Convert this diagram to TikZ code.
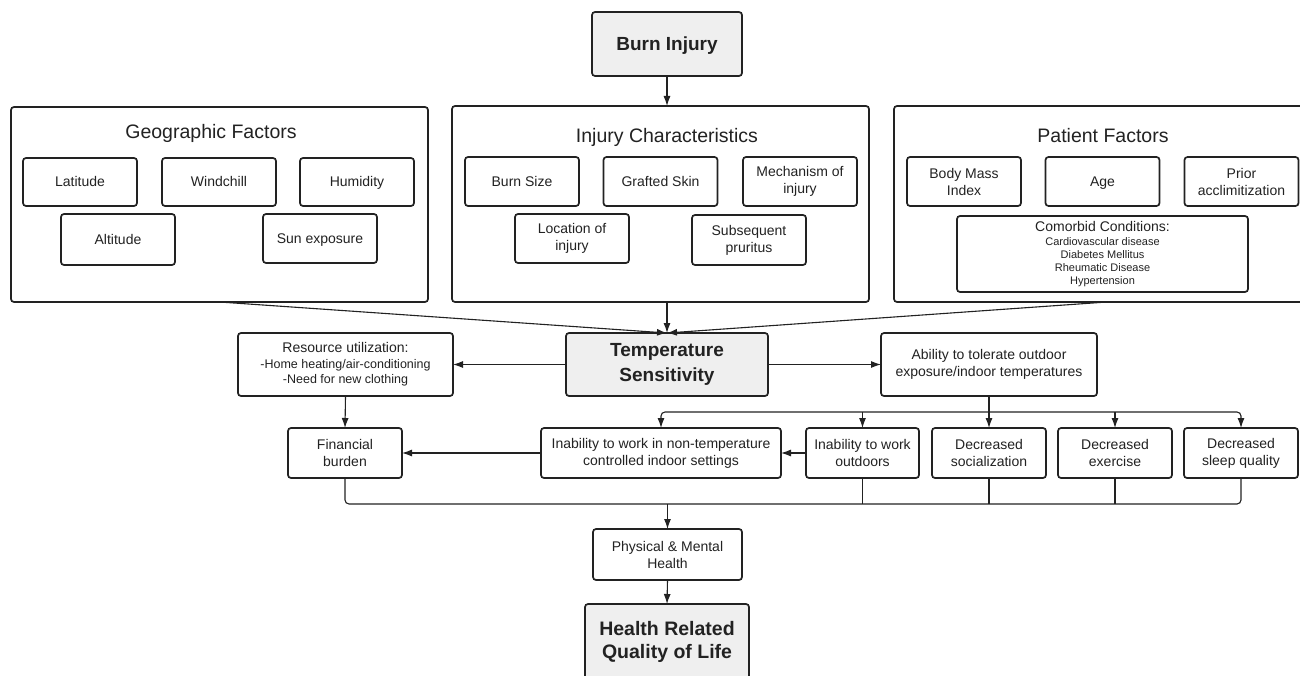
\documentclass[tikz,border=0pt]{standalone}
\usepackage{fontspec}
\setmainfont{Liberation Sans}
\usetikzlibrary{arrows.meta,calc}
\definecolor{ink}{HTML}{222222}
\definecolor{boxgray}{HTML}{EFEFEF}
\tikzset{
  box/.style={draw=ink, text=ink, rounded corners=3pt, line width=1.7pt, align=center,
    inner sep=0pt, outer sep=0pt, font=\fontsize{14}{17}\selectfont},
  oneline/.style={box, text height=10pt, text depth=0pt},
  keybox/.style={box, fill=boxgray, font=\fontsize{19}{25}\bfseries\selectfont},
  grp/.style={box, line width=1.7pt},
  ttl/.style={text=ink, anchor=base, inner sep=0pt, font=\fontsize{19.5}{22}\selectfont},
  ln/.style={draw=ink, line width=1.1pt},
  arr/.style={ln, -{Latex[length=10pt,width=7pt]}},
}
\begin{document}
\begin{tikzpicture}[x=1pt,y=-1pt]
\useasboundingbox (0,0) rectangle (1300,676);
\fill[white] (0,0) rectangle (1300,676);

% top
\node[keybox, minimum width=150, minimum height=64, text height=13.5pt, text depth=0pt] (burn) at (667,44) {Burn Injury};

% groups
\node[grp, minimum width=417, minimum height=195] (geo) at (219.5,204.5) {};
\node[grp, minimum width=417, minimum height=196] (inj) at (660.5,204) {};
\node[grp, minimum width=426, minimum height=196] (pat) at (1107,204) {};
\node[ttl] (geot) at (211,139) {Geographic Factors};
\node[ttl] (injt) at (667,143) {Injury Characteristics};
\node[ttl] (patt) at (1103,143) {Patient Factors};

% geographic
\node[oneline, minimum width=114, minimum height=48] (lat) at (80,182) {Latitude};
\node[oneline, minimum width=114, minimum height=48] (wind) at (219,182) {Windchill};
\node[oneline, minimum width=114, minimum height=48] (hum) at (357,182) {Humidity};
\node[oneline, minimum width=114, minimum height=51] (alt) at (118,239.5) {Altitude};
\node[oneline, minimum width=114, minimum height=49] (sun) at (320,238.5) {Sun exposure};

% injury
\node[oneline, minimum width=114, minimum height=49] (bsize) at (522,181.5) {Burn Size};
\node[oneline, minimum width=114, minimum height=49] (graft) at (660.5,181.5) {Grafted Skin};
\node[box, minimum width=114, minimum height=49] (mech) at (800,181.5) {Mechanism of\\injury};
\node[box, minimum width=114, minimum height=49] (loc) at (572,238.5) {Location of\\injury};
\node[box, minimum width=114, minimum height=50] (prur) at (749,240) {Subsequent\\pruritus};

% patient
\node[box, minimum width=114, minimum height=49] (bmi) at (964,181.5) {Body Mass\\Index};
\node[oneline, minimum width=114, minimum height=49] (age) at (1102.5,181.5) {Age};
\node[box, minimum width=114, minimum height=49] (prior) at (1241.5,181.5) {Prior\\acclimitization};
\node[box, minimum width=291, minimum height=76, font=\fontsize{11}{13}\selectfont] (comor) at (1102.5,254)
  {{\fontsize{14}{15}\selectfont Comorbid Conditions:}\\[1pt]Cardiovascular disease\\Diabetes Mellitus\\Rheumatic Disease\\Hypertension};

% middle
\node[keybox, minimum width=202, minimum height=63] (ts) at (667,364.5) {Temperature\\Sensitivity};
\node[box, minimum width=215, minimum height=63, font=\fontsize{12.5}{15.7}\selectfont] (res) at (345.5,364.5)
  {{\fontsize{14}{15}\selectfont Resource utilization:}\\-Home heating/air-conditioning\\-Need for new clothing};
\node[box, minimum width=216, minimum height=63] (abil) at (989,364.5) {Ability to tolerate outdoor\\exposure/indoor temperatures};

% row of effects
\node[box, minimum width=114, minimum height=50] (fin) at (345,453) {Financial\\burden};
\node[box, minimum width=240, minimum height=50] (nont) at (661,453) {Inability to work in non-temperature\\controlled indoor settings};
\node[box, minimum width=113, minimum height=50] (outd) at (862.5,453) {Inability to work\\outdoors};
\node[box, minimum width=114, minimum height=50] (soc) at (989,453) {Decreased\\socialization};
\node[box, minimum width=114, minimum height=50] (exer) at (1115,453) {Decreased\\exercise};
\node[box, minimum width=114, minimum height=50] (sleep) at (1241,453) {Decreased\\sleep quality};

% bottom
\node[box, minimum width=149, minimum height=51] (pmh) at (667.5,554.5) {Physical \& Mental\\Health};
\node[keybox, minimum width=164, minimum height=76, font=\fontsize{19.5}{23}\bfseries\selectfont] (hrq) at (667,642) {Health Related\\Quality of Life};

% connectors
\coordinate (bus) at (0,412);
\coordinate (col) at (0,504);
\draw[arr] (burn.south) -- (burn.south |- inj.north);
\draw[arr] (geo.south) -- (ts.north);
\draw[arr] (ts.north |- inj.south) -- (ts.north);
\draw[arr] (pat.south) -- (ts.north);
\draw[arr] (ts.west) -- (res.east);
\draw[arr] (ts.east) -- (abil.west);
\draw[arr] (res.south) -- (fin.north);

\draw[ln] (abil.south) -- (abil.south |- bus);
\draw[arr, rounded corners=4pt] (abil.south |- bus) -| (nont.north);
\draw[arr, rounded corners=4pt] (abil.south |- bus) -| (sleep.north);
\draw[arr] (abil.south |- bus) -- (soc.north);
\draw[arr] (outd.north |- bus) -- (outd.north);
\draw[arr] (exer.north |- bus) -- (exer.north);

\draw[arr] (outd.west) -- (nont.east);
\draw[arr] (nont.west) -- (fin.east);

\draw[ln, rounded corners=4pt] (fin.south) |- (sleep.south |- col) -- (sleep.south);
\draw[ln] (outd.south) -- (outd.south |- col);
\draw[ln] (soc.south) -- (soc.south |- col);
\draw[ln] (exer.south) -- (exer.south |- col);
\draw[arr] (pmh.north |- col) -- (pmh.north);
\draw[arr] (pmh.south) -- (hrq.north);
\end{tikzpicture}
\end{document}
